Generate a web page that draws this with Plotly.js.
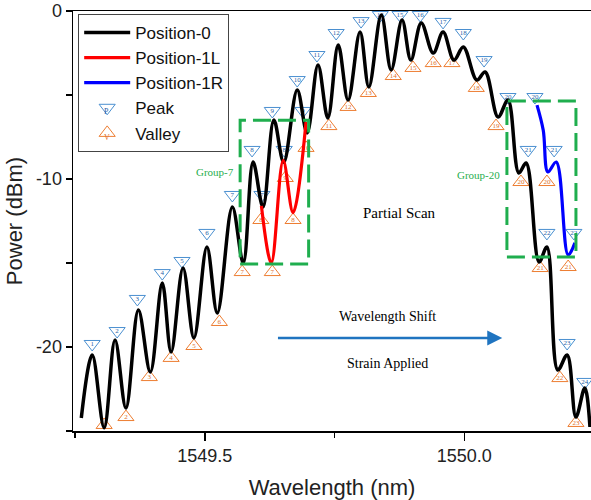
<!DOCTYPE html>
<html><head><meta charset="utf-8">
<script src="https://cdn.plot.ly/plotly-3.0.1.min.js"></script>
<style>html,body{margin:0;padding:0;background:#fff}</style>
</head><body><div id="chart" style="width:591px;height:500px"></div>
<script>
// Position-0 spectrum (black), read at peaks/valleys
const pos0X = [1549.262,1549.283,1549.306,1549.327,1549.348,1549.372,1549.395,1549.418,1549.435,1549.458,1549.479,1549.504,1549.524,1549.553,1549.574,1549.593,1549.612,1549.633,1549.652,1549.678,1549.697,1549.718,1549.737,1549.757,1549.776,1549.799,1549.816,1549.840,1549.859,1549.880,1549.897,1549.917,1549.940,1549.959,1549.980,1549.998,1550.024,1550.040,1550.065,1550.084,1550.105,1550.119,1550.144,1550.159,1550.180,1550.198,1550.215,1550.232,1550.242];
const pos0Y = [-24.23,-20.48,-24.8,-19.58,-23.63,-17.80,-21.49,-16.19,-20.30,-15.30,-19.46,-14.05,-17.98,-11.67,-15.00,-8.99,-11.67,-6.49,-9.0,-4.70,-7.26,-3.21,-6.37,-2.02,-5.30,-1.25,-4.52,-0.24,-3.51,-0.54,-2.92,-0.71,-2.50,-1.25,-2.92,-2.14,-4.11,-3.63,-6.31,-5.30,-9.64,-9.05,-14.94,-14.05,-21.37,-20.48,-24.17,-22.44,-24.76];
// Position-1L (red)
const pos1LX = [1549.609,1549.628,1549.651,1549.670,1549.695];
const pos1LY = [-11.6,-15.0,-8.9,-12.0,-6.6];
// Position-1R (blue)
const pos1RX = [1550.140,1550.152,1550.161,1550.177,1550.200,1550.213];
const pos1RY = [-5.6,-7.1,-9.58,-8.99,-14.52,-13.8];
// Peak markers
const peakX = [1549.283,1549.331,1549.370,1549.418,1549.456,1549.504,1549.553,1549.591,1549.610,1549.630,1549.653,1549.678,1549.689,1549.716,1549.753,1549.801,1549.838,1549.876,1549.915,1549.959,1549.998,1550.038,1550.084,1550.123,1550.136,1550.159,1550.173,1550.198,1550.211,1550.232];
const peakY = [-19.82,-19.05,-17.14,-15.60,-14.88,-13.21,-10.95,-8.27,-10.95,-5.95,-8.27,-4.11,-5.95,-2.62,-1.31,-0.60,-0.24,-0.24,-0.24,-0.65,-1.31,-2.92,-5.12,-8.27,-5.12,-13.21,-8.27,-19.76,-13.21,-22.08];
const peakLabels = ['1','2','3','4','5','6','7','8','7','9','8','10','9','11','12','13','14','15','16','17','18','19','20','21','20','22','21','23','22','24'];
// Valley markers
const valleyX = [1549.306,1549.348,1549.393,1549.435,1549.479,1549.528,1549.572,1549.608,1549.630,1549.655,1549.670,1549.695,1549.739,1549.776,1549.815,1549.863,1549.901,1549.940,1549.976,1550.023,1550.061,1550.109,1550.146,1550.159,1550.184,1550.200,1550.215];
const valleyY = [-24.64,-24.17,-21.79,-20.65,-19.94,-18.51,-15.54,-12.44,-15.54,-9.94,-12.44,-8.15,-6.85,-5.71,-4.88,-3.87,-3.39,-3.10,-3.10,-4.58,-6.85,-10.18,-15.30,-10.18,-21.85,-15.24,-24.52];
const valleyLabels = ['1','2','3','4','5','6','7','8','7','9','8','10','11','12','13','14','15','16','17','18','19','20','21','20','22','21','23'];
// Axis ticks
const xTickVals = [1549.5, 1550.0];
const xTickText = ['1549.5', '1550.0'];
const yTickVals = [-20, -10, 0];
const yTickText = ['-20', '-10', '0'];

const BLUE_M = '#4a8fd0', ORANGE_M = '#ed7d31';
const traces = [
  {x: peakX, y: peakY, mode: 'markers', name: 'Peak', legendrank: 4, cliponaxis: false,
   marker: {symbol: 'triangle-down-open', size: 14, color: BLUE_M, line: {width: 1, color: BLUE_M}}},
  {x: valleyX, y: valleyY, mode: 'markers', name: 'Valley', legendrank: 5, cliponaxis: false,
   marker: {symbol: 'triangle-up-open', size: 14, color: ORANGE_M, line: {width: 1, color: ORANGE_M}}},
  {x: peakX, y: peakY, mode: 'text', text: peakLabels, showlegend: false, cliponaxis: false,
   textposition: 'middle center', textfont: {family: 'Liberation Serif', size: 7, color: '#1f5fa8'}, hoverinfo: 'skip'},
  {x: valleyX, y: valleyY, mode: 'text', text: valleyLabels, showlegend: false, cliponaxis: false,
   textposition: 'middle center', textfont: {family: 'Liberation Serif', size: 7, color: '#e0702a'}, hoverinfo: 'skip'},
  {x: pos0X, y: pos0Y, mode: 'lines', name: 'Position-0', legendrank: 1,
   line: {color: '#000000', width: 3.5, shape: 'spline', smoothing: 1}},
  {x: pos1LX, y: pos1LY, mode: 'lines', name: 'Position-1L', legendrank: 2,
   line: {color: '#ff0000', width: 3.2, shape: 'spline', smoothing: 1}},
  {x: pos1RX, y: pos1RY, mode: 'lines', name: 'Position-1R', legendrank: 3,
   line: {color: '#0000ff', width: 3.2, shape: 'spline', smoothing: 1}}
];

const GREEN = '#1fae4e';
const serif = 'Liberation Serif, Times New Roman, serif';
const layout = {
  width: 591, height: 500,
  margin: {l: 73, r: 0, t: 11, b: 69},
  paper_bgcolor: '#fff', plot_bgcolor: '#fff',
  font: {family: 'Liberation Sans, Arial, sans-serif', color: '#222'},
  xaxis: {
    range: [1549.246, 1550.244], showgrid: false, zeroline: false,
    showline: true, linecolor: '#000', linewidth: 1.5, mirror: true,
    ticks: 'outside', ticklen: 8, tickwidth: 1.5, tickcolor: '#000',
    tickmode: 'array', tickvals: xTickVals, ticktext: xTickText,
    tickfont: {size: 18, color: '#222'},
    minor: {tickmode: 'array', tickvals: [1549.25, 1549.75], ticks: 'outside', ticklen: 5, tickwidth: 1.5, tickcolor: '#000', showgrid: false},
    title: {text: 'Wavelength (nm)', font: {size: 22, color: '#222'}, standoff: 14}
  },
  yaxis: {
    range: [-25, 0], showgrid: false, zeroline: false,
    showline: true, linecolor: '#000', linewidth: 1.5,
    ticks: 'outside', ticklen: 6, tickwidth: 1.5, tickcolor: '#000',
    tickmode: 'array', tickvals: yTickVals, ticktext: yTickText,
    tickfont: {size: 18, color: '#222'},
    minor: {tickmode: 'array', tickvals: [-25, -15, -5], ticks: 'outside', ticklen: 6, tickwidth: 1.5, tickcolor: '#000', showgrid: false},
    title: {text: 'Power (dBm)', font: {size: 22, color: '#222'}, standoff: 7}
  },
  legend: {x: 0.01, y: 0.993, xanchor: 'left', yanchor: 'top', bgcolor: 'rgba(255,255,255,0)',
    bordercolor: '#444', borderwidth: 1, font: {size: 17, color: '#111'}, itemwidth: 46, tracegroupgap: 0},
  showlegend: true,
  shapes: [
    {type: 'rect', xref: 'x', yref: 'y', x0: 1549.568, x1: 1549.700, y0: -15.06, y1: -6.5,
     line: {color: GREEN, width: 3, dash: '18px,7px'}},
    {type: 'rect', xref: 'x', yref: 'y', x0: 1550.082, x1: 1550.215, y0: -14.64, y1: -5.36,
     line: {color: GREEN, width: 3, dash: '18px,7px'}}
  ],
  annotations: [
    {x: 1549.520, y: -9.58, xref: 'x', yref: 'y', text: 'Group-7', showarrow: false,
     font: {family: serif, size: 11, color: GREEN}},
    {x: 1550.027, y: -9.76, xref: 'x', yref: 'y', text: 'Group-20', showarrow: false,
     font: {family: serif, size: 11, color: GREEN}},
    {x: 1549.876, y: -12.02, xref: 'x', yref: 'y', text: 'Partial Scan', showarrow: false,
     font: {family: serif, size: 15, color: '#000'}},
    {x: 1549.851, y: -18.21, xref: 'x', yref: 'y', text: 'Wavelength Shift', showarrow: false,
     font: {family: serif, size: 14, color: '#000'}},
    {x: 1549.851, y: -21.01, xref: 'x', yref: 'y', text: 'Strain Applied', showarrow: false,
     font: {family: serif, size: 14, color: '#000'}},
    {x: 1550.073, y: -19.46, ax: 1549.638, ay: -19.46, xref: 'x', yref: 'y', axref: 'x', ayref: 'y',
     text: '', showarrow: true, arrowhead: 2, arrowsize: 1.2, arrowwidth: 2.5, arrowcolor: '#1f74c0'},
    {x: 0.056, y: 0.776, xref: 'paper', yref: 'paper', text: 'P', showarrow: false,
     font: {family: serif, size: 8, color: '#1f5fa8'}},
    {x: 0.056, y: 0.714, xref: 'paper', yref: 'paper', text: 'V', showarrow: false,
     font: {family: serif, size: 8, color: '#e0702a'}}
  ]
};
Plotly.newPlot('chart', traces, layout, {displayModeBar: false, staticPlot: true});
</script>
</body></html>
